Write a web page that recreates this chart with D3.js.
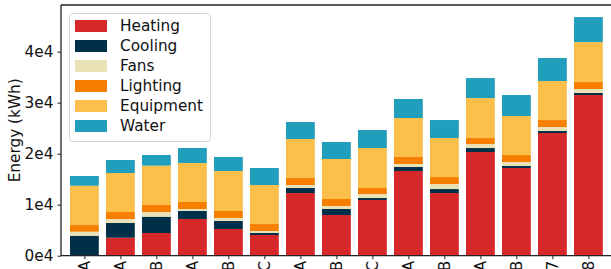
<!DOCTYPE html>
<html>
<head>
<meta charset="utf-8">
<script src="https://cdn.jsdelivr.net/npm/d3@7"></script>
<style>
  html, body { margin: 0; padding: 0; background: #fff; }
  svg { display: block; }
  text { font-family: "DejaVu Sans", sans-serif; fill: #111; }
</style>
</head>
<body>
<svg id="chart" width="611" height="269"></svg>
<script>
// ---- data ----
const categories = ["A","A","B","A","B","C","A","B","C","A","B","A","B","7","8"];
const seriesNames = ["Heating","Cooling","Fans","Lighting","Equipment","Water"];
const heating   = [0, 3530, 4450, 7200, 5240, 4060, 12290, 7980, 10920, 16610, 12290, 20330, 17200, 24060, 31510];
const cooling   = [3920, 2880, 3200, 1570, 1570, 390, 980, 1180, 390, 780, 780, 780, 390, 390, 390];
const fans      = [780, 780, 920, 390, 590, 390, 590, 590, 780, 590, 980, 780, 780, 780, 780];
const lighting  = [1310, 1370, 1370, 1370, 1370, 1370, 1370, 1370, 1180, 1370, 1370, 1180, 1370, 1370, 1370];
const equipment = [7710, 7650, 7710, 7650, 7840, 7650, 7650, 7840, 7840, 7650, 7650, 7840, 7650, 7650, 7840];
const water     = [1900, 2550, 2100, 2940, 2750, 3330, 3330, 3330, 3530, 3730, 3530, 3920, 4120, 4510, 4900];
const yTicks = [0, 10000, 20000, 30000, 40000];
const yTickLabels = ["0e4", "1e4", "2e4", "3e4", "4e4"];
const colors = ["#d62828", "#003049", "#eae2b7", "#f77f00", "#fcbf49", "#219ebc"];

const seriesValues = [heating, cooling, fans, lighting, equipment, water];
const table = categories.map((c, i) => {
  const row = { idx: i, cat: c };
  seriesNames.forEach((s, k) => row[s] = seriesValues[k][i]);
  return row;
});

// ---- layout ----
const svg = d3.select("#chart");
const pLeft = 61, pTop = 5, pBottom = 255.7, pRight = 640;
const fontSize = 15.3;

const x = d3.scaleLinear().domain([-0.65, 14.6]).range([pLeft, 610]);
const y = d3.scaleLinear().domain([0, 49157]).range([pBottom, pTop]);
const barW = x(0.8) - x(0);

const stacked = d3.stack().keys(seriesNames)(table);

svg.append("g").selectAll("g.series").data(stacked).join("g")
  .attr("class", "series")
  .attr("fill", (d, k) => colors[k])
  .selectAll("rect").data(d => d).join("rect")
  .attr("x", d => x(d.data.idx) - barW / 2)
  .attr("width", barW)
  .attr("y", d => y(d[1]))
  .attr("height", d => Math.max(0, y(d[0]) - y(d[1])));

// spines
const spineColor = "#222";
svg.append("line").attr("x1", pLeft).attr("x2", pLeft).attr("y1", pTop).attr("y2", pBottom)
  .attr("stroke", spineColor).attr("stroke-width", 1.3);
svg.append("line").attr("x1", pLeft).attr("x2", pRight).attr("y1", pTop).attr("y2", pTop)
  .attr("stroke", spineColor).attr("stroke-width", 1.3);
svg.append("line").attr("x1", pLeft).attr("x2", pRight).attr("y1", pBottom).attr("y2", pBottom)
  .attr("stroke", spineColor).attr("stroke-width", 1.3);

// y axis
const yAxis = d3.axisLeft(y).tickValues(yTicks)
  .tickFormat((d, i) => yTickLabels[i]).tickSize(3.5).tickPadding(4);
const ya = svg.append("g").attr("transform", `translate(${pLeft},0)`).call(yAxis);
ya.select(".domain").remove();
ya.selectAll(".tick line").attr("stroke", spineColor).attr("stroke-width", 1);
ya.selectAll(".tick text").attr("font-size", fontSize).attr("font-family", "DejaVu Sans").attr("fill", "#111");

// x axis
const xAxis = d3.axisBottom(x).tickValues(d3.range(categories.length))
  .tickFormat(i => categories[i]).tickSize(3.5);
const xa = svg.append("g").attr("transform", `translate(0,${pBottom})`).call(xAxis);
xa.select(".domain").remove();
xa.selectAll(".tick line").attr("stroke", spineColor).attr("stroke-width", 1);
xa.selectAll(".tick text")
  .attr("font-size", fontSize).attr("font-family", "DejaVu Sans").attr("fill", "#111")
  .attr("text-anchor", "end")
  .attr("dominant-baseline", "central")
  .attr("dy", null)
  .attr("y", 0)
  .attr("transform", "translate(0,5) rotate(-90)");

// y label
svg.append("text")
  .attr("transform", "translate(20,130.3) rotate(-90)")
  .attr("text-anchor", "middle")
  .attr("font-size", fontSize)
  .text("Energy (kWh)");

// legend
const lg = svg.append("g");
lg.append("rect").attr("x", 69.5).attr("y", 13.5).attr("width", 141).attr("height", 128)
  .attr("rx", 3).attr("fill", "#fff").attr("fill-opacity", 0.8)
  .attr("stroke", "#d4d4d4").attr("stroke-width", 1);
const items = lg.selectAll("g.item").data(seriesNames).join("g")
  .attr("class", "item")
  .attr("transform", (d, i) => `translate(0,${26 + i * 20})`);
items.append("rect").attr("x", 75).attr("y", -6).attr("width", 32).attr("height", 12)
  .attr("fill", (d, i) => colors[i]);
items.append("text").attr("x", 120).attr("y", 0)
  .attr("dominant-baseline", "central")
  .attr("font-size", fontSize)
  .text(d => d);
</script>
</body>
</html>
